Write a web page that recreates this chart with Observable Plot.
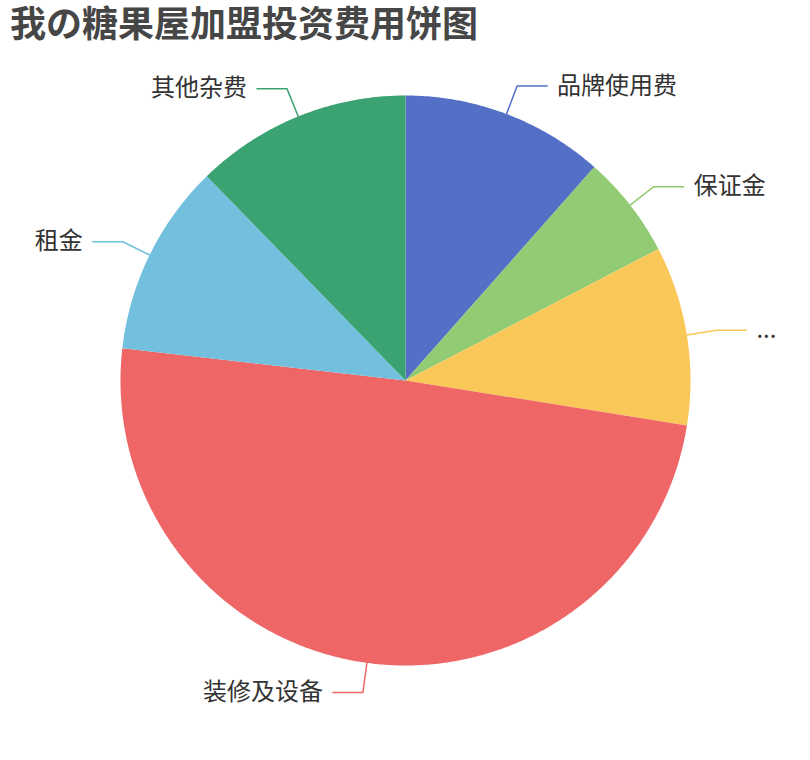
<!DOCTYPE html>
<html>
<head>
<meta charset="utf-8">
<script src="https://cdn.jsdelivr.net/npm/d3@7"></script>
<script src="https://cdn.jsdelivr.net/npm/@observablehq/plot@0.6"></script>
<style>
  html, body { margin: 0; padding: 0; background: #fff; }
  #wrap { position: relative; width: 810px; height: 760px; }
  #title { position: absolute; left: 10px; top: 1px; margin: 0; font-family: 'Liberation Sans', 'Noto Sans CJK SC', sans-serif; font-size: 36px; line-height: 48px; font-weight: bold; color: #464646; white-space: nowrap; z-index: 1; }
  #chart { position: absolute; left: 0; top: 0; }
</style>
</head>
<body>
<div id="wrap">
  <div id="chart"></div>
  <div id="title"></div>
</div>
<script>
const title = "我の糖果屋加盟投资费用饼图";
const categories = ["品牌使用费", "保证金", "...", "装修及设备", "租金", "其他杂费"];
const values = [11.53, 5.84, 10.15, 49.28, 10.92, 12.28];
const colors = ["#5470c6", "#91cc75", "#fac858", "#ee6666", "#73c0de", "#3ba272"];

const W = 810, H = 760;
const R = 285;          // pie radius (px)
const L1 = 30, L2 = 30, GAP = 10;
const FONT = "'Noto Sans CJK SC', 'Noto Sans', sans-serif";

document.getElementById("title").textContent = title;

const arcs = d3.pie().sort(null).value(d => d.value)(
  categories.map((name, i) => ({name, value: values[i]}))
);

// slice polygons, centre at (0,0), y up
const slicePts = [];
arcs.forEach(a => {
  const name = a.data.name;
  slicePts.push({name, x: 0, y: 0});
  const n = Math.max(2, Math.ceil((a.endAngle - a.startAngle) / (Math.PI / 360)));
  for (let k = 0; k <= n; k++) {
    const t = a.startAngle + (a.endAngle - a.startAngle) * k / n;
    slicePts.push({name, x: R * Math.sin(t), y: R * Math.cos(t)});
  }
});

const leaderPts = [];
const labels = [];
arcs.forEach(a => {
  const name = a.data.name;
  const m = (a.startAngle + a.endAngle) / 2;
  const s = Math.sin(m), c = Math.cos(m);
  const dir = s >= 0 ? 1 : -1;
  const ex = (R + L1) * s, ey = (R + L1) * c;
  leaderPts.push({name, x: R * s, y: R * c});
  leaderPts.push({name, x: ex, y: ey});
  leaderPts.push({name, x: ex + dir * L2, y: ey});
  labels.push({name, x: ex + dir * (L2 + GAP), y: ey, side: dir});
});

const chart = Plot.plot({
  width: W,
  height: H,
  margin: 0,
  x: {domain: [-W / 2, W / 2], axis: null},
  y: {domain: [-H / 2, H / 2], axis: null},
  color: {domain: categories, range: colors},
  style: {fontFamily: FONT, background: "#fff"},
  marks: [
    Plot.line(slicePts, {x: "x", y: "y", z: "name", fill: "name", stroke: "none", curve: "linear-closed"}),
    Plot.line(leaderPts, {x: "x", y: "y", z: "name", stroke: "name", strokeWidth: 1.5, curve: "linear"}),
    Plot.text(labels.filter(d => d.side > 0), {x: "x", y: "y", text: "name", textAnchor: "start", lineAnchor: "middle", fontSize: 24, fill: "#333", fontFamily: FONT}),
    Plot.text(labels.filter(d => d.side < 0), {x: "x", y: "y", text: "name", textAnchor: "end", lineAnchor: "middle", fontSize: 24, fill: "#333", fontFamily: FONT})
  ]
});
document.getElementById("chart").appendChild(chart);
</script>
</body>
</html>
